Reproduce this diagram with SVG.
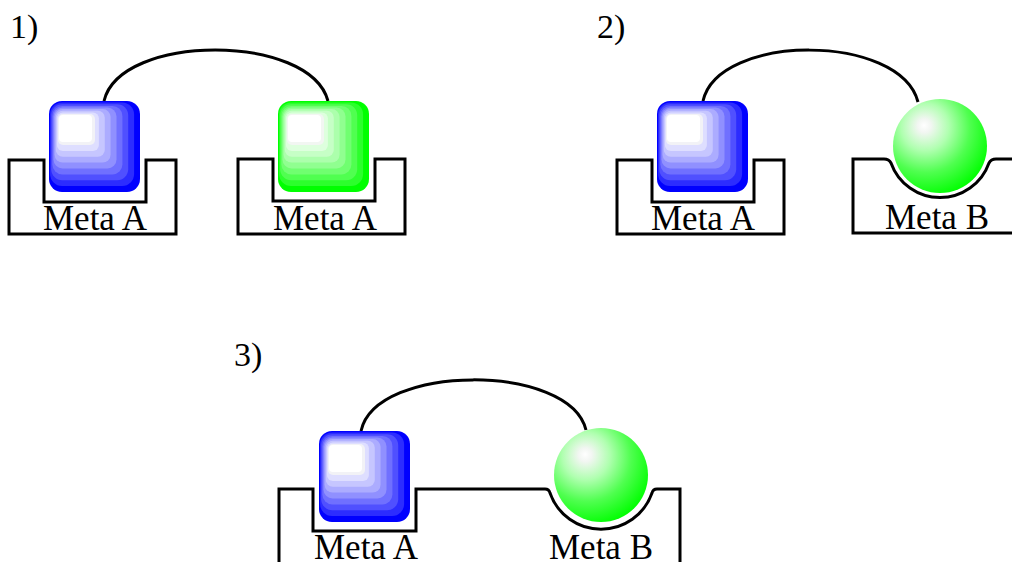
<svg xmlns="http://www.w3.org/2000/svg" width="1012" height="562" viewBox="0 0 1012 562">
<style>
.cont{fill:#fff;stroke:#000;stroke-width:3;stroke-linejoin:miter}
.conn{fill:none;stroke:#000;stroke-width:3}
.lbl{font-family:"Liberation Serif","Times New Roman",serif;font-size:35px;fill:#000}
.num{font-family:"Liberation Serif","Times New Roman",serif;font-size:34px;fill:#000}
</style>
<defs>
<g id="sqBlue">
<rect x="0" y="0" width="91" height="91" rx="13" fill="#0000ff"/>
<rect x="1.1" y="1.6" width="84" height="83.5" rx="12" fill="#2c2cff"/>
<rect x="2.2" y="3.2" width="77" height="76" rx="11" fill="#5050ff"/>
<rect x="3.4" y="4.9" width="70" height="68.5" rx="10" fill="#7070ff"/>
<rect x="4.5" y="6.5" width="63" height="61" rx="9" fill="#9090ff"/>
<rect x="5.6" y="8.1" width="56" height="53.5" rx="8" fill="#acacff"/>
<rect x="6.8" y="9.8" width="49" height="46" rx="7" fill="#c6c6ff"/>
<rect x="7.9" y="11.4" width="42" height="38.5" rx="6" fill="#dedeff"/>
<rect x="9" y="13" width="37" height="31" rx="5" fill="#f2f2f6"/>
<rect x="10" y="14" width="33" height="27" rx="4" fill="#ffffff"/>
</g>
<g id="sqGreen">
<rect x="0" y="0" width="91" height="91" rx="13" fill="#00ff00"/>
<rect x="1.1" y="1.6" width="84" height="83.5" rx="12" fill="#2cff2c"/>
<rect x="2.2" y="3.2" width="77" height="76" rx="11" fill="#50ff50"/>
<rect x="3.4" y="4.9" width="70" height="68.5" rx="10" fill="#70ff70"/>
<rect x="4.5" y="6.5" width="63" height="61" rx="9" fill="#90ff90"/>
<rect x="5.6" y="8.1" width="56" height="53.5" rx="8" fill="#acffac"/>
<rect x="6.8" y="9.8" width="49" height="46" rx="7" fill="#c6ffc6"/>
<rect x="7.9" y="11.4" width="42" height="38.5" rx="6" fill="#deffde"/>
<rect x="9" y="13" width="37" height="31" rx="5" fill="#f2f6f2"/>
<rect x="10" y="14" width="33" height="27" rx="4" fill="#ffffff"/>
</g>
<radialGradient id="gBall" cx="0.36" cy="0.33" r="0.72" fx="0.33" fy="0.28">
<stop offset="0" stop-color="#ffffff"/>
<stop offset="0.1" stop-color="#f2f6f2"/>
<stop offset="0.35" stop-color="#b0ffb0"/>
<stop offset="0.65" stop-color="#50ff50"/>
<stop offset="1" stop-color="#00ff00"/>
</radialGradient>
</defs>

<text class="num" x="10" y="38">1)</text>
<text class="num" x="597" y="38">2)</text>
<text class="num" x="234" y="366">3)</text>

<g id="connectors">
<path class="conn" d="M104,101 C120,33 310,33 328,101"/>
<path class="conn" d="M703,101 C718,33 900,33 918,102"/>
<path class="conn" d="M361,431 C376,363 570,363 586,430"/>
</g>

<g id="p1-left">
<path class="cont" d="M9,160 H44 V202 H146 V160 H176 V234 H9 Z"/>
<use href="#sqBlue" x="49" y="101"/>
<text class="lbl" x="95" y="230" text-anchor="middle">Meta A</text>
</g>

<g id="p1-right">
<path class="cont" d="M238,159 H273 V201 H375 V159 H405 V234 H238 Z"/>
<use href="#sqGreen" x="278" y="101"/>
<text class="lbl" x="325" y="230" text-anchor="middle">Meta A</text>
</g>

<g id="p2-left">
<path class="cont" d="M617,160 H652 V202 H754 V160 H784 V234 H617 Z"/>
<use href="#sqBlue" x="657" y="101"/>
<text class="lbl" x="703" y="230" text-anchor="middle">Meta A</text>
</g>

<g id="p2-right">
<path class="cont" d="M853,159 H884 Q889,159 891,163 A52,52 0 0 0 989,163 Q991,159 996,159 H1020 V233 H853 Z"/>
<circle cx="940" cy="146" r="47" fill="url(#gBall)"/>
<text class="lbl" x="937" y="229" text-anchor="middle">Meta B</text>
</g>

<g id="p3">
<path class="cont" d="M279,489 H313 V531 H416 V489 H545 Q549,489 550,493 A54,54 0 0 0 652,493 Q653,489 657,489 H680 V575 H279 Z"/>
<use href="#sqBlue" x="319" y="431"/>
<circle cx="601" cy="475" r="47" fill="url(#gBall)"/>
<text class="lbl" x="366" y="559" text-anchor="middle">Meta A</text>
<text class="lbl" x="601" y="559" text-anchor="middle">Meta B</text>
</g>
</svg>
